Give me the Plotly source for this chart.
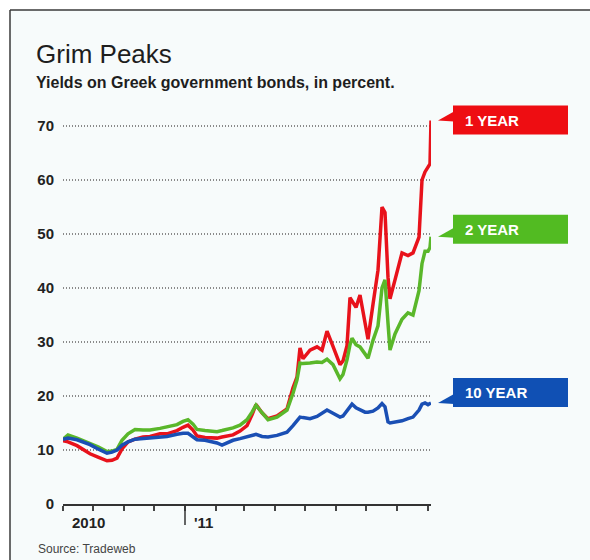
import plotly.graph_objects as go

# Greek government bond yields, percent
dates = [
    "2010-09-01", "2010-09-06", "2010-09-15", "2010-09-28", "2010-10-06", "2010-10-15",
    "2010-10-20", "2010-10-25", "2010-10-30", "2010-11-05", "2010-11-12", "2010-11-20",
    "2010-11-27", "2010-12-07", "2010-12-14", "2010-12-24", "2010-12-30", "2011-01-04",
    "2011-01-09", "2011-01-13", "2011-01-21", "2011-02-02", "2011-02-07", "2011-02-18",
    "2011-02-25", "2011-03-04", "2011-03-09", "2011-03-13", "2011-03-19", "2011-03-25",
    "2011-04-03", "2011-04-13", "2011-04-19", "2011-04-23", "2011-04-26", "2011-04-29",
    "2011-05-06", "2011-05-13", "2011-05-18", "2011-05-23", "2011-05-29", "2011-06-05",
    "2011-06-08", "2011-06-12", "2011-06-15", "2011-06-17", "2011-06-21", "2011-06-25",
    "2011-06-30", "2011-07-03", "2011-07-08", "2011-07-13", "2011-07-17", "2011-07-20",
    "2011-07-23", "2011-07-25", "2011-07-30", "2011-08-06", "2011-08-12", "2011-08-17",
    "2011-08-23", "2011-08-26", "2011-08-29", "2011-09-01", "2011-09-03", "2011-09-04",
]
one_year = [
    11.7, 11.5, 10.8, 9.3, 8.7, 8.0,
    8.1, 8.5, 10.2, 11.5, 12.0, 12.4,
    12.5, 13.0, 13.0, 13.6, 14.2, 14.6,
    13.7, 12.6, 12.3, 12.2, 12.4, 12.8,
    13.5, 14.5, 16.5, 18.4, 16.9, 15.8,
    16.3, 17.6, 21.5, 23.5, 28.9, 26.9,
    28.5, 29.1, 28.5, 32.0, 29.2, 25.8,
    26.5, 29.3, 38.2, 37.5, 36.4, 38.7,
    33.8, 30.5, 37.0, 43.3, 55.0, 54.0,
    42.0, 38.0, 41.5, 46.5, 46.0, 46.5,
    49.4, 60.0, 61.5, 62.5, 63.0, 71.0,
]
two_year = [
    12.0, 12.8, 12.2, 11.3, 10.6, 9.7,
    9.8, 10.1, 11.8, 13.0, 13.8, 13.7,
    13.7, 14.0, 14.3, 14.7, 15.3, 15.6,
    14.8, 13.8, 13.6, 13.4, 13.6, 14.1,
    14.6, 15.6, 17.0, 18.3, 16.9, 15.6,
    16.1, 17.4, 20.5, 23.0, 26.1, 26.0,
    26.1, 26.3, 26.2, 26.8, 25.8, 23.2,
    24.0, 26.7, 29.5, 30.7, 29.5, 29.1,
    27.8, 27.0, 30.3, 33.0, 40.0, 41.5,
    33.5, 28.5, 31.5, 34.2, 35.4, 35.0,
    39.5, 44.5, 46.8, 46.8, 47.5, 49.5,
]
ten_year = [
    12.0, 12.2, 11.9, 11.0, 10.2, 9.4,
    9.6, 10.0, 10.9, 11.5, 12.0, 12.1,
    12.2, 12.4, 12.5, 12.9, 13.1, 13.1,
    12.4, 11.9, 11.8, 11.3, 10.9, 11.8,
    12.1, 12.5, 12.8, 12.9, 12.5, 12.4,
    12.7, 13.3, 14.5, 15.4, 16.1, 16.0,
    15.8, 16.2, 16.8, 17.4, 16.8, 16.1,
    16.3, 17.2, 18.0, 18.5, 17.8, 17.4,
    17.0, 17.0, 17.2, 17.8, 18.6, 18.0,
    15.2, 15.0, 15.1, 15.4, 15.8, 16.1,
    17.4, 18.5, 18.7, 18.4, 18.6, 18.7,
]
series_names = ["1 YEAR", "2 YEAR", "10 YEAR"]
y_ticks = [0, 10, 20, 30, 40, 50, 60, 70]
year_labels = ["2010", "'11"]

# colours and geometry (pixels in a 590 x 560 canvas)
LINE_COLORS = ["#e8121b", "#5ab72a", "#1a4fb4"]
BOX_COLORS = ["#ee0d12", "#52bb22", "#1050b4"]
BOX_SHIFT_PX = [0.5, 7.5, 10.5]       # box centre sits this far above the pointer tip
W, H = 590, 560
L, R, T, B = 63, 431, 99, 504
Y_MAX = 75
BG = "#f7fbfb"
FONT = "Liberation Sans"


def px(x):
    return (x - L) / (R - L)


def py(y):
    return (B - y) / (B - T)


def val_to_py(v):
    return B - v / Y_MAX * (B - T)


fig = go.Figure()
for name, vals, col in zip(series_names, [one_year, two_year, ten_year], LINE_COLORS):
    fig.add_trace(go.Scatter(x=dates, y=vals, name=name, mode="lines",
                             line=dict(color=col, width=3.5), hoverinfo="skip"))

shapes = [
    # light panel with a thin frame on the top and left
    dict(type="rect", xref="paper", yref="paper", x0=px(10), x1=px(W + 5), y0=py(10), y1=py(H + 5),
         fillcolor=BG, line=dict(width=0), layer="below"),
    dict(type="line", xref="paper", yref="paper", x0=px(10), x1=px(W + 5), y0=py(10), y1=py(10),
         line=dict(color="#3a3a3a", width=1.5)),
    dict(type="line", xref="paper", yref="paper", x0=px(10), x1=px(10), y0=py(10), y1=py(H + 5),
         line=dict(color="#3a3a3a", width=1.5)),
    # long tick marking the new year
    dict(type="line", xref="x", yref="paper", x0="2011-01-01", x1="2011-01-01",
         y0=py(504), y1=py(525), line=dict(color="#333", width=1.5)),
]

annotations = [
    dict(text="Grim Peaks", xref="paper", yref="paper", x=px(34), y=py(37), xanchor="left",
         yanchor="top", showarrow=False, font=dict(family=FONT, size=26, color="#1e1e1e")),
    dict(text="Yields on Greek government bonds, in percent.", xref="paper", yref="paper",
         x=px(34), y=py(72), xanchor="left", yanchor="top", showarrow=False,
         font=dict(family=FONT, size=16, color="#1e1e1e", weight="bold")),
    dict(text=year_labels[0], xref="paper", yref="paper", x=px(88), y=py(512), xanchor="center",
         yanchor="top", showarrow=False, font=dict(family=FONT, size=15, color="#222", weight="bold")),
    dict(text=year_labels[1], xref="paper", yref="paper", x=px(192), y=py(512), xanchor="left",
         yanchor="top", showarrow=False, font=dict(family=FONT, size=15, color="#222", weight="bold")),
    dict(text="Source: Tradeweb", xref="paper", yref="paper", x=px(36), y=py(540), xanchor="left",
         yanchor="top", showarrow=False, font=dict(family=FONT, size=12, color="#444")),
]

# end-of-line labels: a coloured box with a pointer to the last value
for name, vals, col, shift in zip(series_names, [one_year, two_year, ten_year], BOX_COLORS, BOX_SHIFT_PX):
    tip = val_to_py(vals[-1])
    cy = tip - shift
    bx0, bx1 = 453, 568
    shapes.append(dict(type="rect", xref="paper", yref="paper", x0=px(bx0), x1=px(bx1),
                       y0=py(cy + 14.5), y1=py(cy - 14.5), fillcolor=col, line=dict(width=0)))
    shapes.append(dict(type="path", xref="paper", yref="paper",
                       path=f"M {px(438)} {py(tip)} L {px(bx0 + 1)} {py(tip - 9)} "
                            f"L {px(bx0 + 1)} {py(tip + 1)} Z",
                       fillcolor=col, line=dict(width=0)))
    annotations.append(dict(text=name, xref="paper", yref="paper", x=px(bx0 + 10), y=py(cy),
                            xanchor="left", yanchor="middle", showarrow=False,
                            font=dict(family=FONT, size=15, color="white", weight="bold")))

fig.update_layout(
    width=W, height=H,
    margin=dict(l=L, r=W - R, t=T, b=H - B, pad=0),
    paper_bgcolor="white", plot_bgcolor=BG,
    showlegend=False,
    shapes=shapes, annotations=annotations,
    xaxis=dict(type="date", range=["2010-09-01", "2011-09-04"], showgrid=False, zeroline=False,
               showline=True, linecolor="#333", linewidth=2,
               ticks="outside", ticklen=5, tickwidth=1.5, tickcolor="#444",
               tick0="2010-10-01", dtick="M1", showticklabels=False, fixedrange=True),
    yaxis=dict(range=[0, Y_MAX], tickvals=y_ticks, showgrid=True, gridcolor="#8a8a8a",
               gridwidth=1.5, griddash="1px,2px", zeroline=False, showline=False, ticks="",
               ticklabelstandoff=8,
               tickfont=dict(family=FONT, size=15, color="#222", weight="bold"), fixedrange=True),
)

fig.write_html("out.html")
